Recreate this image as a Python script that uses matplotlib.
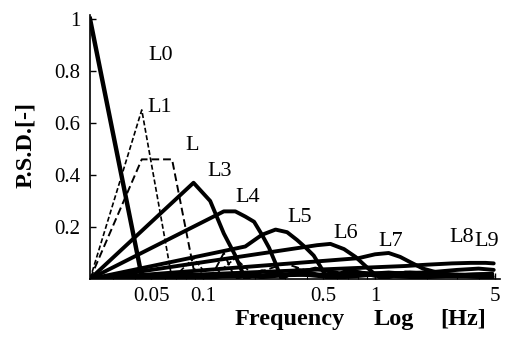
import matplotlib
matplotlib.use("Agg")
import matplotlib.pyplot as plt
from matplotlib.ticker import FixedLocator, NullFormatter, LogLocator

# ---- data ----
L0_f = [0.022, 0.044, 0.066, 0.11, 0.15, 0.22, 0.35, 0.6, 1.0, 1.8, 3.0, 4.8]
L0_p = [1.00, 0.01, 0.02, 0.005, 0.02, 0.008, 0.02, 0.006, 0.018, 0.006, 0.015, 0.005]

L1_f = [0.022, 0.044, 0.066, 0.088, 0.11, 0.154, 0.2, 0.3, 0.5, 1.0, 2.0, 4.8]
L1_p = [0.0, 0.65, 0.0, 0.08, 0.0, 0.08, 0.01, 0.03, 0.01, 0.025, 0.01, 0.012]

L2_f = [0.022, 0.044, 0.066, 0.088, 0.11, 0.132, 0.154, 0.2, 0.3, 0.5, 1.0, 2.0, 4.8]
L2_p = [0.0, 0.46, 0.46, 0.04, 0.0, 0.1, 0.0, 0.02, 0.06, 0.01, 0.02, 0.01, 0.01]

L3_f = [0.022, 0.088, 0.11, 0.132, 0.154, 0.176, 0.22, 0.3, 0.45, 0.7, 1.2, 2.2, 4.8]
L3_p = [0.0, 0.37, 0.30, 0.175, 0.09, 0.0, 0.03, 0.012, 0.04, 0.015, 0.025, 0.012, 0.01]

L4_f = [0.022, 0.132, 0.154, 0.176, 0.198, 0.22, 0.242, 0.264, 0.286, 0.35, 0.5, 0.8, 1.4, 2.5, 4.8]
L4_p = [0.0, 0.26, 0.26, 0.24, 0.22, 0.17, 0.12, 0.06, 0.0, 0.035, 0.012, 0.025, 0.012, 0.02, 0.01]

L5_f = [0.022, 0.176, 0.22, 0.264, 0.308, 0.352, 0.396, 0.44, 0.484, 0.53, 0.7, 1.0, 1.6, 3.0, 4.8]
L5_p = [0.0, 0.125, 0.17, 0.19, 0.18, 0.15, 0.12, 0.09, 0.045, 0.0, 0.035, 0.012, 0.025, 0.012, 0.015]

L6_f = [0.022, 0.46, 0.55, 0.66, 0.77, 0.88, 0.99, 1.1, 1.5, 2.5, 4.8]
L6_p = [0.0, 0.13, 0.135, 0.115, 0.085, 0.05, 0.02, 0.0, 0.025, 0.012, 0.02]

L7_f = [0.022, 0.8, 1.0, 1.2, 1.4, 1.6, 1.9, 2.3, 2.8, 4.8]
L7_p = [0.0, 0.08, 0.095, 0.1, 0.085, 0.065, 0.04, 0.025, 0.015, 0.02]

L8_f = [0.022, 1.5, 2.0, 2.8, 3.6, 4.4, 4.9]
L8_p = [0.0, 0.05, 0.055, 0.06, 0.062, 0.062, 0.06]

L9_f = [0.022, 2.0, 3.0, 4.0, 4.9]
L9_p = [0.0, 0.025, 0.035, 0.04, 0.035]

x_ticks = [0.05, 0.1, 0.5, 1, 5]
x_tick_labels = ["0.05", "0.1", "0.5", "1", "5"]
y_ticks = [0.2, 0.4, 0.6, 0.8, 1.0]
y_tick_labels = ["0.2", "0.4", "0.6", "0.8", "1"]

curve_labels = ["L0", "L1", "L", "L3", "L4", "L5", "L6", "L7", "L8", "L9"]

# ---- figure ----
plt.rcParams['font.family'] = ['Liberation Serif', 'DejaVu Serif']
fig = plt.figure(figsize=(5.06, 3.43), dpi=100)
ax = fig.add_axes([90/506, 64/343, 410/506, 264/343])
ax.set_xscale('log')
ax.set_xlim(0.022, 5.33)
ax.set_ylim(0, 1.015)

thick = dict(color='black', lw=2.8, solid_joinstyle='round', solid_capstyle='round')
ax.plot(L0_f, L0_p, color='black', lw=3.2, solid_joinstyle='round')
ax.plot(L1_f, L1_p, color='black', lw=1.2, dashes=(3, 1.5))
ax.plot(L2_f, L2_p, color='black', lw=1.4, dashes=(4, 2))
for f, p in [(L3_f, L3_p), (L4_f, L4_p), (L5_f, L5_p), (L6_f, L6_p),
             (L7_f, L7_p), (L8_f, L8_p), (L9_f, L9_p)]:
    ax.plot(f, p, **thick)

for spine in ['top', 'right']:
    ax.spines[spine].set_visible(False)
for spine in ['left', 'bottom']:
    ax.spines[spine].set_linewidth(1.2)

ax.xaxis.set_major_locator(FixedLocator(x_ticks))
ax.set_xticklabels(x_tick_labels)
ax.xaxis.set_minor_locator(LogLocator(base=10, subs=range(2, 10)))
ax.xaxis.set_minor_formatter(NullFormatter())
ax.set_yticks(y_ticks)
ax.set_yticklabels(y_tick_labels)
ax.tick_params(axis='both', which='major', direction='in', length=4, width=1, labelsize=15)
ax.tick_params(axis='x', which='major', pad=6)
ax.tick_params(axis='y', which='major', pad=7)
ax.tick_params(axis='x', which='minor', direction='in', length=2, width=0.8)

fig.canvas.draw()
# curve labels: pixel positions converted through the axes transform
lab_x_px = [161, 160, 192, 220, 248, 300, 346, 391, 462, 487]
lab_y_px = [55, 107, 145, 172, 197, 218, 233, 241, 238, 241]
inv = ax.transData.inverted()
for t, xp, yp in zip(curve_labels, lab_x_px, lab_y_px):
    xd, yd = inv.transform((xp, 343 - yp))
    ax.text(xd, yd, t, fontsize=16, ha='center', va='center')

fig.text(290/506, (343-325)/343, "Frequency", fontsize=17.5, fontweight='bold', ha='center', va='baseline')
fig.text(394/506, (343-325)/343, "Log", fontsize=17.5, fontweight='bold', ha='center', va='baseline')
fig.text(463/506, (343-325)/343, "[Hz]", fontsize=17.5, fontweight='bold', ha='center', va='baseline')
fig.text(26/506, (343-145)/343, "P.S.D.[-]", fontsize=17.5, fontweight='bold', rotation=90, ha='center', va='center')

fig.savefig("out.png", dpi=100)
